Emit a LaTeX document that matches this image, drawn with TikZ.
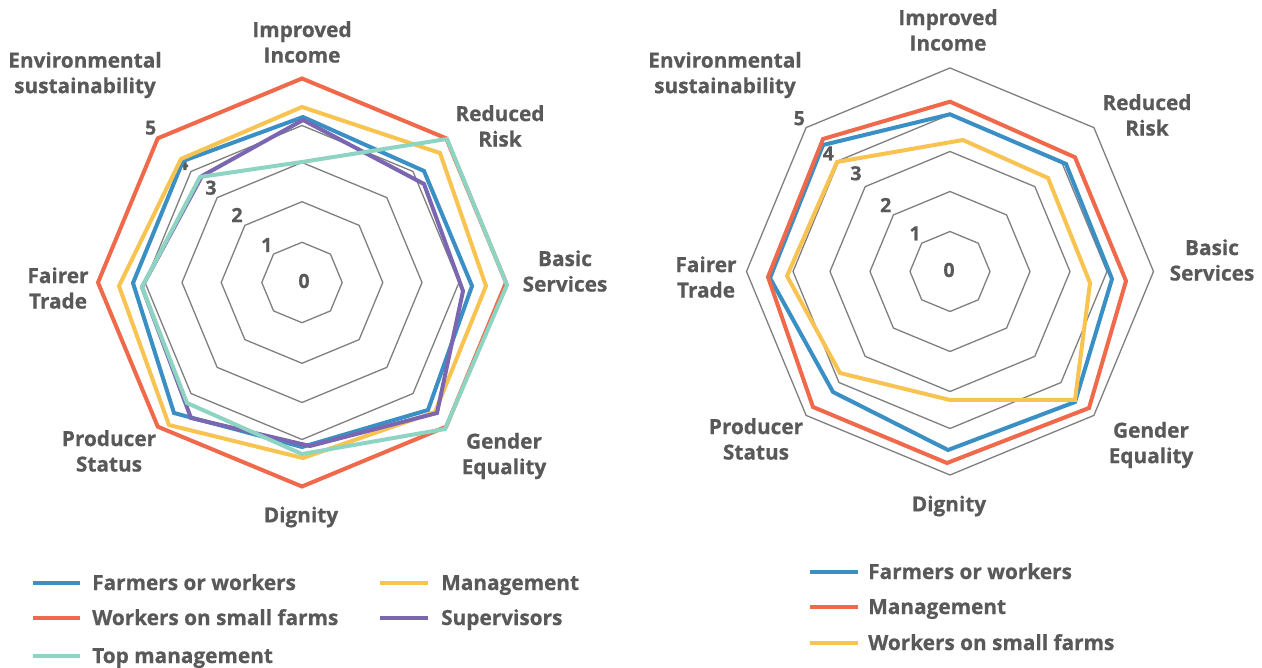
\documentclass[tikz,border=0pt]{standalone}
\usepackage{fontspec}
\setmainfont{Open Sans}[FakeBold=0.6]
\definecolor{cblue}{HTML}{3A8FC4}
\definecolor{cred}{HTML}{F0694A}
\definecolor{cyel}{HTML}{F9C351}
\definecolor{cpur}{HTML}{7B66B2}
\definecolor{cteal}{HTML}{8ED4C2}
\definecolor{ctext}{HTML}{595959}
\definecolor{cgrid}{HTML}{7F7F7F}
\newcommand{\octring}[3]{%
  \draw[gridline] ({#1},{#2-#3}) -- ({#1+0.7071*#3},{#2-0.7071*#3}) -- ({#1+#3},{#2})
    -- ({#1+0.7071*#3},{#2+0.7071*#3}) -- ({#1},{#2+#3}) -- ({#1-0.7071*#3},{#2+0.7071*#3})
    -- ({#1-#3},{#2}) -- ({#1-0.7071*#3},{#2-0.7071*#3}) -- cycle;}
\tikzset{
  gridline/.style={draw=cgrid, line width=1.3pt, line join=miter},
  ser/.style={line width=4pt, line join=miter},
  cat/.style={text=ctext, font=\bfseries\fontsize{20.8}{25.5}\selectfont, align=center, inner sep=0pt},
  num/.style={text=ctext, font=\bfseries\fontsize{19.5}{22}\selectfont, inner sep=0pt},
  leg/.style={text=ctext, font=\bfseries\fontsize{20.8}{24}\selectfont, inner sep=0pt, anchor=base west},
}
\begin{document}
\begin{tikzpicture}[x=1pt,y=-1pt]
\useasboundingbox (0,0) rectangle (1262,668);
\fill[white] (0,0) rectangle (1262,668);

% ================= LEFT CHART =================
\octring{302}{282.5}{40.2}
\octring{302}{282.5}{80.8}
\octring{302}{282.5}{120}
\octring{302}{282.5}{157}
\octring{302}{282.5}{204}

\node[num] (l0) at (304,281) {0};
\node[num] (l1) at (266.7,245) {1};
\node[num] (l2) at (237,215) {2};
\node[num] (l3) at (211,187.7) {3};
\node[num] (l4) at (182.7,163) {4};
\node[num] (l5) at (150.7,127.7) {5};

% red: workers on small farms
\draw[ser, cred] (302,78.5) -- (446.2,138.3) -- (506,282.5) -- (446.2,426.7) -- (302,486.5) -- (157.8,426.7) -- (98,282.5) -- (157.8,138.3) -- cycle;
% blue: farmers or workers
\draw[ser, cblue] (303,117) -- (424,171) -- (472,286) -- (428,410) -- (302,447) -- (174,413) -- (133,283) -- (183,161) -- cycle;
% yellow: management
\draw[ser, cyel] (302,107) -- (440,153) -- (486,286) -- (435,412) -- (303,458) -- (169,425) -- (119,286) -- (181,159) -- cycle;
% purple: supervisors
\draw[ser, cpur] (303,120) -- (424,184) -- (463,291) -- (437,413) -- (310,446) -- (191,418) -- (142,287) -- (202,176) -- cycle;
% teal: top management
\draw[ser, cteal] (302,162) -- (447,139) -- (507,285) -- (445,429) -- (302,454) -- (187,403) -- (142,287) -- (200,177) -- cycle;

\node[cat] (lII) at (302,42) {Improved\\Income};
\node[cat] (lRR) at (500,126) {Reduced\\Risk};
\node[cat] (lBS) at (565,271) {Basic\\Services};
\node[cat] (lGE) at (504,456) {Gender\\Equality};
\node[cat] (lDI) at (301,517) {Dignity};
\node[cat] (lPS) at (109,451) {Producer\\Status};
\node[cat] (lFT) at (58,288) {Fairer\\Trade};
\node[cat] (lES) at (85,75) {Environmental\\sustainability};

% legend left
\node[leg] (lg1) at (92,590) {Farmers or workers};
\node[leg] (lg2) at (92,625) {Workers on small farms};
\node[leg] (lg3) at (92,663) {Top management};
\node[leg] (lg4) at (441,590) {Management};
\node[leg] (lg5) at (441,625) {Supervisors};
\draw[ser, cblue] (33,583) -- (80,583);
\draw[ser, cred] (33,618) -- (80,618);
\draw[ser, cteal] (33,656) -- (80,656);
\draw[ser, cyel] (380,583) -- (428,583);
\draw[ser, cpur] (380,618) -- (428,618);

% ================= RIGHT CHART =================
\octring{950}{271.5}{40}
\octring{950}{271.5}{80}
\octring{950}{271.5}{120}
\octring{950}{271.5}{157}
\octring{950}{271.5}{203.5}

\node[num] (r0) at (949,270) {0};
\node[num] (r1) at (915,233.3) {1};
\node[num] (r2) at (885.7,205) {2};
\node[num] (r3) at (856,173.3) {3};
\node[num] (r4) at (828.3,153.3) {4};
\node[num] (r5) at (799.3,118.3) {5};

% blue: farmers or workers
\draw[ser, cblue] (950,114.3) -- (1066,164) -- (1112,279) -- (1075,402) -- (948,450) -- (833,392) -- (770,278) -- (823,145) -- cycle;
% red: management
\draw[ser, cred] (950,101.7) -- (1075,157.3) -- (1126,281) -- (1089,408) -- (947,463) -- (813,407) -- (768,277) -- (823,139) -- cycle;
% yellow: workers on small farms
\draw[ser, cyel] (963,140) -- (1048,178) -- (1090,283) -- (1075,400) -- (950,400) -- (840,373) -- (787,276) -- (837,162) -- cycle;

\node[cat] (rII) at (948,30) {Improved\\Income};
\node[cat] (rRR) at (1147,115) {Reduced\\Risk};
\node[cat] (rBS) at (1212,260) {Basic\\Services};
\node[cat] (rGE) at (1151,445) {Gender\\Equality};
\node[cat] (rDI) at (949,506) {Dignity};
\node[cat] (rPS) at (756,439) {Producer\\Status};
\node[cat] (rFT) at (706,277) {Fairer\\Trade};
\node[cat] (rES) at (725,75) {Environmental\\sustainability};

% legend right
\node[leg] (rg1) at (868,579) {Farmers or workers};
\node[leg] (rg2) at (868,614) {Management};
\node[leg] (rg3) at (868,650) {Workers on small farms};
\draw[ser, cblue] (810,572) -- (858,572);
\draw[ser, cred] (810,607) -- (858,607);
\draw[ser, cyel] (810,643) -- (858,643);
\end{tikzpicture}
\end{document}
